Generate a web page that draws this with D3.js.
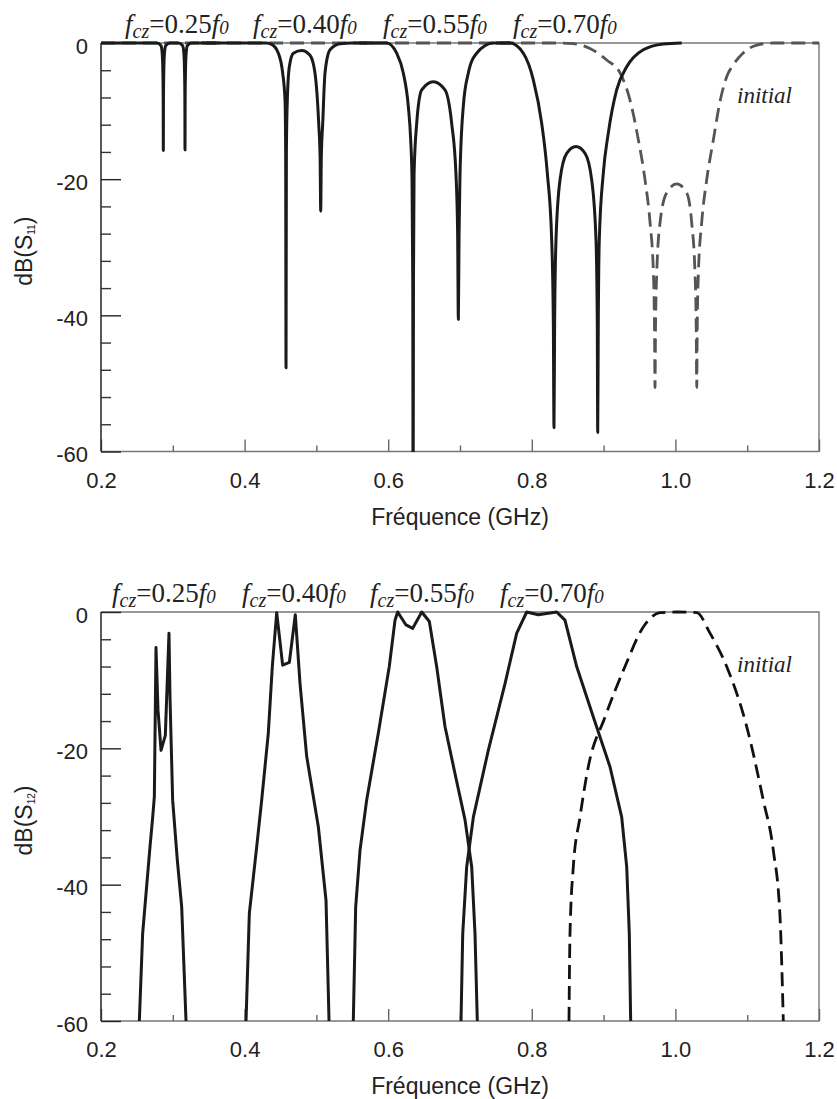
<!DOCTYPE html>
<html><head><meta charset="utf-8">
<script src="https://cdn.jsdelivr.net/npm/d3@7"></script>
<style>body{margin:0;background:#fff} svg{display:block}</style>
</head><body><svg id="c" width="837" height="1099"></svg>
<script>
// ---------------- DATA ----------------
const xTickValues = [0.2, 0.4, 0.6, 0.8, 1.0, 1.2];
const xTickLabels = ["0.2", "0.4", "0.6", "0.8", "1.0", "1.2"];
const xMinorTicks = [0.3, 0.5, 0.7, 0.9, 1.1];
const yTickValues = [0, -20, -40, -60];
const yTickLabels = ["0", "-20", "-40", "-60"];
const yMinorTicks = [-4, -8, -12, -16, -24, -28, -32, -36, -44, -48, -52, -56];
const fczValues = ["0.25", "0.40", "0.55", "0.70"];
const xTitle = "Fréquence (GHz)";

// S11 (top) : [GHz, dB]
const s11_025 = [[0.2,0],[0.278,0],[0.2835,-0.4],[0.2852,-1.5],[0.2861,-4],[0.2866,-8],[0.2868,-15.8],[0.2870,-8],[0.2875,-4],[0.2884,-1.5],[0.2901,-0.4],[0.296,0],[0.308,0],[0.3137,-0.4],[0.3154,-1.5],[0.3163,-4],[0.3168,-8],[0.3170,-15.7],[0.3172,-8],[0.3177,-4],[0.3186,-1.5],[0.3203,-0.4],[0.326,0],[0.36,0]];
const s11_040 = [[0.34,0],[0.43,0],[0.4377,-0.2],[0.447,-1.5],[0.453,-4.4],[0.4563,-8.4],[0.4572,-16],[0.4577,-47.7],[0.4582,-16],[0.4595,-8.4],[0.4623,-3.5],[0.4679,-1.5],[0.4795,-1.1],[0.4911,-1.8],[0.498,-4.4],[0.5032,-11.8],[0.5052,-17],[0.5060,-24.7],[0.5068,-17],[0.5088,-11.8],[0.512,-4.4],[0.519,-1.0],[0.533,-0.1],[0.55,0],[0.58,0]];
const s11_055 = [[0.56,0],[0.598,0],[0.6118,-1.5],[0.621,-4.4],[0.628,-9.3],[0.6313,-14.2],[0.6332,-20.1],[0.6342,-35],[0.6347,-70],[0.6352,-35],[0.636,-19.3],[0.6397,-11.8],[0.6467,-6.9],[0.6628,-5.7],[0.6791,-6.9],[0.6884,-11.8],[0.6944,-19.3],[0.6967,-28],[0.6977,-40.6],[0.6987,-28],[0.7,-19.3],[0.7046,-9.3],[0.7116,-4.4],[0.7232,-1.5],[0.7464,0],[0.77,0]];
const s11_070 = [[0.75,0],[0.7696,0],[0.7882,-1.5],[0.8021,-5.4],[0.8138,-11.8],[0.8216,-19.1],[0.8277,-28.9],[0.83,-41.1],[0.8309,-56.5],[0.8318,-41.1],[0.8337,-28.9],[0.8393,-20.1],[0.8486,-16.2],[0.8616,-15.2],[0.8741,-16.2],[0.8834,-20.1],[0.8894,-28.9],[0.8912,-41.1],[0.8918,-57.2],[0.8926,-41.1],[0.894,-28.9],[0.8996,-19.1],[0.9066,-13.2],[0.9182,-6.9],[0.9322,-3.5],[0.9553,-1.0],[0.9832,-0.15],[1.0088,0]];
const s11_initial = [[0.2,0],[0.84,0],[0.8578,-0.1],[0.881,-0.8],[0.9043,-2.5],[0.9229,-4.4],[0.9368,-8.4],[0.9484,-14.2],[0.9577,-20.1],[0.9647,-26.4],[0.9694,-33.8],[0.9709,-42],[0.9716,-50.6],[0.9723,-42],[0.974,-33.8],[0.9786,-26.4],[0.9879,-22.0],[1.0018,-20.7],[1.0157,-22.0],[1.0227,-26.4],[1.0273,-33.8],[1.029,-42],[1.0297,-50.6],[1.0304,-42],[1.032,-33.8],[1.0366,-26.4],[1.0436,-20.1],[1.0529,-14.2],[1.0625,-8.4],[1.072,-4.8],[1.080,-3.3],[1.094,-1.5],[1.1136,-0.3],[1.136,0],[1.2,0]];

// S12 (bottom) : [GHz, dB]
const s12_025 = [[0.2534,-60],[0.258,-47.2],[0.2627,-41.3],[0.2682,-34.5],[0.272,-30.1],[0.2743,-27.1],[0.2766,-5.2],[0.2794,-14.4],[0.2836,-20.3],[0.2896,-18.1],[0.2947,-3.1],[0.2961,-12.5],[0.2998,-27.6],[0.3063,-36.4],[0.3124,-43.3],[0.3184,-60]];
const s12_040 = [[0.402,-60],[0.4066,-44.2],[0.4168,-34.5],[0.4238,-27.6],[0.433,-17.8],[0.4386,-8.0],[0.4447,-0.1],[0.453,-7.8],[0.4623,-7.4],[0.4706,-0.4],[0.4772,-10.5],[0.4865,-21.2],[0.5027,-31.5],[0.5134,-42.3],[0.5176,-60]];
const s12_055 = [[0.5514,-60],[0.5547,-43.3],[0.5607,-35.0],[0.57,-27.6],[0.5862,-17.8],[0.6015,-8.0],[0.6095,-1.2],[0.6132,0],[0.6248,-1.9],[0.6341,-2.4],[0.6467,0],[0.6573,-1.4],[0.6675,-8.0],[0.6791,-16.8],[0.693,-23.7],[0.707,-30.5],[0.7163,-37.4],[0.7209,-47.2],[0.7241,-60]];
const s12_070 = [[0.7014,-60],[0.7038,-47.2],[0.7093,-37.4],[0.7186,-30.1],[0.7394,-20.3],[0.7627,-10.5],[0.779,-3.1],[0.7929,0],[0.809,-0.4],[0.8347,0],[0.8462,-1.2],[0.8625,-8.0],[0.8857,-15.4],[0.9089,-22.7],[0.9252,-30.1],[0.9322,-37.4],[0.9358,-47.2],[0.9377,-60]];
const s12_initial = [[0.8518,-60],[0.8532,-47.2],[0.8578,-37.4],[0.8671,-30.1],[0.8787,-22.7],[0.902,-15.4],[0.9298,-8.0],[0.9553,-2.2],[0.9786,-0.1],[1.0018,0],[1.0297,-0.1],[1.0482,-3.1],[1.0714,-8.0],[1.0993,-16.8],[1.1224,-27.6],[1.1364,-35.0],[1.1457,-44.7],[1.1503,-60]];

// ---------------- LAYOUT ----------------
const panels = [
  {top:43, bottom:451.5, sub:"11", solid:[s11_025,s11_040,s11_055,s11_070], initial:s11_initial,
   initColor:"#555", solidCurve:d3.curveMonotoneX, labelX:[125,253,383,513], labelY:33, initLabelY:103},
  {top:612, bottom:1021, sub:"12", solid:[s12_025,s12_040,s12_055,s12_070], initial:s12_initial,
   initColor:"#111", solidCurve:d3.curveLinear, labelX:[112,242,370,500], labelY:602, initLabelY:672}
];
const L = 101, R = 819;
const sans = "'Liberation Sans', Arial, sans-serif";
const serif = "'Liberation Serif', 'Times New Roman', serif";

const svg = d3.select("#c");
const x = d3.scaleLinear().domain([0.2, 1.2]).range([L, R]);

panels.forEach((p, i) => {
  const y = d3.scaleLinear().domain([0, -60]).range([p.top, p.bottom]);
  const g = svg.append("g");

  const clipId = "clip" + i;
  svg.append("defs").append("clipPath").attr("id", clipId)
    .append("rect").attr("x", L).attr("y", p.top - 4).attr("width", R - L).attr("height", p.bottom - p.top + 4.5);

  // frame (top, right, bottom grey)
  g.append("path").attr("d", `M${L},${p.top}H${R}V${p.bottom}H${L}`)
    .attr("fill", "none").attr("stroke", "#777").attr("stroke-width", 1.4);

  // x ticks (inward, from bottom axis)
  const xAxis = d3.axisBottom(x).tickValues(xTickValues).tickSize(-12).tickFormat((d, k) => xTickLabels[k]).tickPadding(0);
  const xa = g.append("g").attr("transform", `translate(0,${p.bottom})`).call(xAxis);
  xa.select(".domain").remove();
  xa.selectAll("line").attr("stroke", "#666").attr("stroke-width", 1.4);
  xa.selectAll("text").attr("font-family", sans).attr("font-size", 22).attr("fill", "#222")
    .attr("y", 36).attr("dy", 0);
  const xm = d3.axisBottom(x).tickValues(xMinorTicks).tickSize(-6).tickFormat("");
  const xma = g.append("g").attr("transform", `translate(0,${p.bottom})`).call(xm);
  xma.select(".domain").remove();
  xma.selectAll("line").attr("stroke", "#666").attr("stroke-width", 1.4);

  // y ticks (inward from left axis)
  const yAxis = d3.axisLeft(y).tickValues(yTickValues).tickSize(-20).tickFormat((d, k) => yTickLabels[k]).tickPadding(0);
  const ya = g.append("g").attr("transform", `translate(${L},0)`).call(yAxis);
  ya.select(".domain").attr("stroke", "#222").attr("stroke-width", 1.5).attr("d", `M0,${p.top}V${p.bottom}`);
  ya.selectAll("line").attr("stroke", "#222").attr("stroke-width", 1.4);
  ya.selectAll("text").attr("font-family", sans).attr("font-size", 22).attr("fill", "#222")
    .attr("x", -13).attr("dy", 10);
  const ym = d3.axisLeft(y).tickValues(yMinorTicks).tickSize(-10).tickFormat("");
  const yma = g.append("g").attr("transform", `translate(${L},0)`).call(ym);
  yma.select(".domain").remove();
  yma.selectAll("line").attr("stroke", "#333").attr("stroke-width", 1.4);

  // axis titles
  g.append("text").attr("x", (L + R) / 2).attr("y", p.bottom + 73).attr("text-anchor", "middle")
    .attr("font-family", sans).attr("font-size", 23).attr("fill", "#222").text(xTitle);
  const yt = g.append("text").attr("transform", `translate(32,${(p.top + p.bottom) / 2 + 4}) rotate(-90)`)
    .attr("text-anchor", "middle").attr("font-family", sans).attr("font-size", 23).attr("fill", "#222");
  yt.append("tspan").text("dB(S");
  yt.append("tspan").attr("font-size", 10).attr("dy", 3).text(p.sub);
  yt.append("tspan").attr("dy", -3).text(")");

  // curves
  const plot = g.append("g").attr("clip-path", `url(#${clipId})`);
  const lineInit = d3.line().x(d => x(d[0])).y(d => y(d[1])).curve(d3.curveMonotoneX);
  plot.append("path").datum(p.initial).attr("d", lineInit).attr("fill", "none")
    .attr("stroke", p.initColor).attr("stroke-width", 2.8).attr("stroke-dasharray", "14,7");
  const lineSolid = d3.line().x(d => x(d[0])).y(d => y(d[1])).curve(p.solidCurve);
  plot.selectAll("path.s").data(p.solid).enter().append("path").attr("class", "s")
    .attr("d", lineSolid).attr("fill", "none").attr("stroke", "#1a1a1a").attr("stroke-width", 3)
    .attr("stroke-linejoin", "round");

  // f_cz labels
  fczValues.forEach((v, k) => {
    const t = g.append("text").attr("x", p.labelX[k]).attr("y", p.labelY)
      .attr("font-family", serif).attr("font-size", 27).attr("fill", "#222");
    t.append("tspan").attr("font-style", "italic").text("f");
    t.append("tspan").attr("font-style", "italic").attr("font-size", 20).attr("dy", 5).text("cz");
    t.append("tspan").attr("dy", -5).text("=" + v);
    t.append("tspan").attr("font-style", "italic").text("f");
    t.append("tspan").attr("font-style", "italic").attr("font-size", 19).attr("dy", 1).text("0");
  });
  g.append("text").attr("x", 737).attr("y", p.initLabelY).attr("font-family", serif)
    .attr("font-style", "italic").attr("font-size", 23).attr("fill", "#222").text("initial");
});
</script></body></html>
